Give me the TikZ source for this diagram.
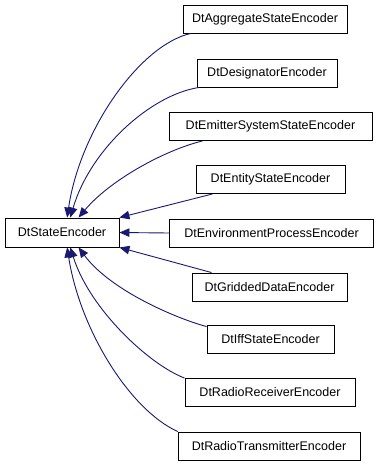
\documentclass[tikz,border=0pt]{standalone}
\usepackage{fontspec}
\setmainfont{Liberation Sans}
\usetikzlibrary{arrows.meta}
\definecolor{edgeblue}{HTML}{191970}
\begin{document}
\begin{tikzpicture}[x=1pt,y=-1pt,
  every node/.style={font=\fontsize{12.5}{14}\selectfont},
  cls/.style={draw=black,fill=white,line width=0.9pt,minimum height=28pt,inner sep=0pt},
  inherit/.style={edgeblue,line width=0.9pt,-{Triangle[length=10pt,width=8.5pt]}}]
\useasboundingbox (0,0) rectangle (379,467);
% Base class
\node[cls,minimum width=114pt,minimum height=29pt] (base) at (62,232.5) {DtStateEncoder};
% Derived classes
\node[cls,minimum width=164pt] (agg) at (265,19) {DtAggregateStateEncoder};
\node[cls,minimum width=140pt] (des) at (267,73) {DtDesignatorEncoder};
\node[cls,minimum width=203pt] (emi) at (270.5,126.5) {DtEmitterSystemStateEncoder};
\node[cls,minimum width=149pt] (ent) at (270.5,179.5) {DtEntityStateEncoder};
\node[cls,minimum width=204pt] (env) at (271.5,233) {DtEnvironmentProcessEncoder};
\node[cls,minimum width=155pt] (gri) at (269.5,287) {DtGriddedDataEncoder};
\node[cls,minimum width=127pt] (iff) at (270.5,339) {DtIffStateEncoder};
\node[cls,minimum width=170pt] (rec) at (270,392.5) {DtRadioReceiverEncoder};
\node[cls,minimum width=182pt] (tra) at (269,446) {DtRadioTransmitterEncoder};
% Inheritance edges
\draw[inherit] (agg.191) .. controls (140,45) and (80,130) .. (base.71);
\draw[inherit] (des.192) .. controls (150,95) and (90,150) .. (base.61);
\draw[inherit] (emi.192) .. controls (165,150) and (110,180) .. (base.42);
\draw[inherit] (ent.194) -- (base.north east);
\draw[inherit] (env.west) -- (base.east);
\draw[inherit] (gri.166) -- (base.south east);
\draw[inherit] (iff.169) .. controls (175,318) and (110,290) .. (base.-42);
\draw[inherit] (rec.north west) .. controls (150,365) and (90,310) .. (base.-61);
\draw[inherit] (tra.171) .. controls (130,410) and (80,330) .. (base.-71);
\end{tikzpicture}
\end{document}
